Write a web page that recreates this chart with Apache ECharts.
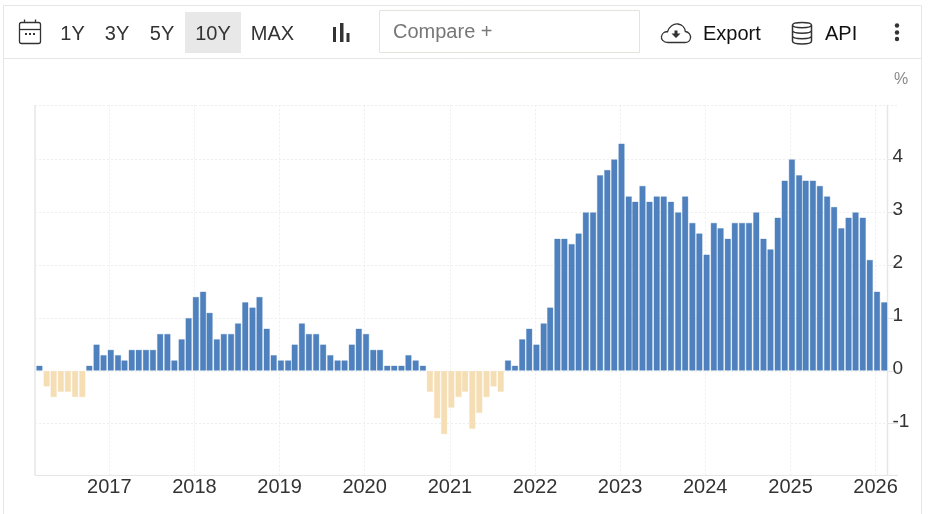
<!DOCTYPE html>
<html>
<head>
<meta charset="utf-8">
<style>html,body{margin:0;padding:0;background:#fff}#c{width:929px;height:514px}</style>
<script src="https://cdn.jsdelivr.net/npm/echarts@6/dist/echarts.min.js"></script>
</head>
<body>
<div id="c"></div>
<script>
const startYear = 2016, startMonth = 3;
const values2016 = [0.1,-0.3,-0.5,-0.4,-0.4,-0.5,-0.5,0.1,0.5,0.3];
const values2017 = [0.4,0.3,0.2,0.4,0.4,0.4,0.4,0.7,0.7,0.2,0.6,1.0];
const values2018 = [1.4,1.5,1.1,0.6,0.7,0.7,0.9,1.3,1.2,1.4,0.8,0.3];
const values2019 = [0.2,0.2,0.5,0.9,0.7,0.7,0.5,0.3,0.2,0.2,0.5,0.8];
const values2020 = [0.7,0.4,0.4,0.1,0.1,0.1,0.3,0.2,0.1,-0.4,-0.9,-1.2];
const values2021 = [-0.7,-0.5,-0.4,-1.1,-0.8,-0.5,-0.3,-0.4,0.2,0.1,0.6,0.8];
const values2022 = [0.5,0.9,1.2,2.5,2.5,2.4,2.6,3.0,3.0,3.7,3.8,4.0];
const values2023 = [4.3,3.3,3.2,3.5,3.2,3.3,3.3,3.2,3.0,3.3,2.8,2.6];
const values2024 = [2.2,2.8,2.7,2.5,2.8,2.8,2.8,3.0,2.5,2.3,2.9,3.6];
const values2025 = [4.0,3.7,3.6,3.6,3.5,3.3,3.1,2.7,2.9,3.0,2.9,2.1];
const values2026 = [1.5,1.3];
const yearTicks = [2017,2018,2019,2020,2021,2022,2023,2024,2025,2026];
const yTicks = [-1,0,1,2,3,4];
const rangeButtons = [['1Y',72.5],['3Y',117],['5Y',162],['10Y',213],['MAX',272.5]];

const allValues = [].concat(values2016,values2017,values2018,values2019,values2020,values2021,values2022,values2023,values2024,values2025,values2026);
const seriesData = allValues.map((v,i)=>{
  const m = startMonth-1+i;
  const d = Date.UTC(startYear+Math.floor(m/12), m%12, 7);
  return {
    value:[d,v],
    itemStyle: v<0
      ? {color:'#F5DEB3',borderColor:'rgba(245,222,179,0.35)'}
      : {color:'#4E81BD',borderColor:'rgba(78,129,189,0.35)'}
  };
});
const tickTimes = yearTicks.map(y=>Date.UTC(y,0,1));

echarts.graphic.registerShape('iconCloud', echarts.graphic.extendPath('M668 42.5 C663 42.5 661 39 661.5 36.5 C662 33.5 664.5 31.5 667.5 31.8 C669 26.5 673.5 23.5 678 24 C682.5 24.5 685 28 685.3 31.5 C689 32 691 35 690.5 38 C690 41 688 42.5 685 42.5 Z',{}));
echarts.graphic.registerShape('iconArrow', echarts.graphic.extendPath('M674.5 30.5 L677.5 30.5 L677.5 33.5 L680.5 33.5 L676 38 L671.5 33.5 L674.5 33.5 Z',{}));
echarts.graphic.registerShape('iconDb', echarts.graphic.extendPath('M792.5 25 C792.5 21.5 811.5 21.5 811.5 25 L811.5 41 C811.5 45 792.5 45 792.5 41 Z M792.5 25 C792.5 28.5 811.5 28.5 811.5 25 M792.5 30.5 C792.5 34 811.5 34 811.5 30.5 M792.5 36 C792.5 39.5 811.5 39.5 811.5 36',{}));

const BORDER='#e6e6e6';
const GRID='#eeeeee';
const line=(x1,y1,x2,y2,stroke,lw)=>({type:'line',silent:true,shape:{x1,y1,x2,y2},style:{stroke:stroke||BORDER,lineWidth:lw||1,fill:null}});
const txt=(x,y,text,fill,align,size)=>({type:'text',silent:true,x,y,style:{text,fill:fill||'#333',font:(size||20)+'px "Liberation Sans", Arial, sans-serif',align:align||'center',verticalAlign:'middle'}});
const IC='#333';
const graphics=[
  // card frame
  line(3.5,5.5,921.5,5.5),
  line(3.5,5.5,3.5,514),
  line(921.5,5.5,921.5,514),
  line(3.5,58.5,921.5,58.5),
  // active range
  {type:'rect',silent:true,shape:{x:185,y:12,width:56,height:41},style:{fill:'#e8e8e8'}},
  // compare box
  {type:'rect',silent:true,shape:{x:379.5,y:10.5,width:260,height:42},style:{fill:'#fff',stroke:'#e4e4dc',lineWidth:1}},
  txt(393,32,'Compare +','#777','left'),
  txt(703,34,'Export','#111','left'),
  txt(825,34,'API','#111','left'),
  // calendar icon
  {type:'rect',silent:true,shape:{x:19.5,y:22.5,width:21,height:21,r:2},style:{fill:'none',stroke:IC,lineWidth:1.3}},
  line(19.5,29.5,40.5,29.5,IC,1.3),
  line(24.5,19.5,24.5,23,IC,1.3),
  line(35.5,19.5,35.5,23,IC,1.3),
  {type:'rect',silent:true,shape:{x:25,y:33,width:2,height:2},style:{fill:IC}},
  {type:'rect',silent:true,shape:{x:29,y:33,width:2,height:2},style:{fill:IC}},
  {type:'rect',silent:true,shape:{x:33,y:33,width:2,height:2},style:{fill:IC}},
  // bar icon
  {type:'rect',silent:true,shape:{x:333,y:27,width:3,height:15},style:{fill:'#333'}},
  {type:'rect',silent:true,shape:{x:340,y:23,width:3.5,height:19},style:{fill:'#333'}},
  {type:'rect',silent:true,shape:{x:346.5,y:33,width:3,height:9},style:{fill:'#333'}},
  // cloud icon
  {type:'iconCloud',silent:true,style:{fill:'none',stroke:IC,lineWidth:1.3}},
  {type:'iconArrow',silent:true,style:{fill:'#333'}},
  // database icon
  {type:'iconDb',silent:true,style:{fill:'none',stroke:IC,lineWidth:1.5}},
  // menu dots
  {type:'circle',silent:true,shape:{cx:897,cy:25.5,r:2.2},style:{fill:'#333'}},
  {type:'circle',silent:true,shape:{cx:897,cy:32.5,r:2.2},style:{fill:'#333'}},
  {type:'circle',silent:true,shape:{cx:897,cy:39,r:2.2},style:{fill:'#333'}},
  // unit
  txt(894,80,'%','#888','left',16),
  // plot frame
  {type:'line',silent:true,shape:{x1:35,y1:105.5,x2:898,y2:105.5},style:{stroke:GRID,lineWidth:1,lineDash:[2,2]}},
  line(35,105,35,475.5,BORDER,1.5),
  line(35,475.5,898,475.5,BORDER,1),
  line(887.5,105,887.5,475.5,BORDER,1.5)
];
rangeButtons.forEach(b=>graphics.push(txt(b[1],34,b[0],'#333')));

const chart = echarts.init(document.getElementById('c'),null,{renderer:'canvas'});
chart.setOption({
  animation:false,
  backgroundColor:'#fff',
  grid:{left:35,right:41.5,top:105.3,bottom:39,containLabel:false},
  xAxis:{
    type:'value',
    scale:true,
    min:Date.UTC(2016,1,17),
    max:Date.UTC(2026,1,21),
    axisLine:{show:false},
    axisTick:{show:false,customValues:tickTimes},
    minorTick:{show:false},
    axisLabel:{
      customValues:tickTimes,
      formatter:(v)=>String(new Date(v).getUTCFullYear()),
      color:'#333',fontSize:20,fontFamily:'Liberation Sans',margin:2,hideOverlap:false
    },
    splitLine:{show:true,lineStyle:{color:GRID,type:[2,2],width:1}}
  },
  yAxis:{
    type:'value',
    position:'right',
    min:-1.97,
    max:5.02,
    axisLine:{show:false},
    axisTick:{show:true,length:11,lineStyle:{color:BORDER},customValues:yTicks},
    axisLabel:{
      customValues:yTicks,
      color:'#333',fontSize:19,fontFamily:'Liberation Sans',margin:5,align:'left',verticalAlign:'bottom',lineHeight:4
    },
    splitLine:{show:true,lineStyle:{color:GRID,type:[2,2],width:1}}
  },
  series:[{
    type:'bar',
    barWidth:6.5,
    data:seriesData,
    itemStyle:{borderWidth:1},
    silent:true
  }],
  graphic:{elements:graphics}
});
</script>
</body>
</html>
